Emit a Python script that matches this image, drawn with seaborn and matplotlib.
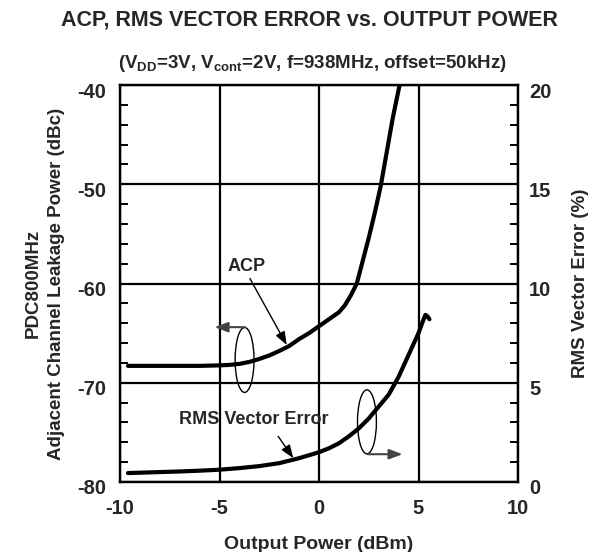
import numpy as np
import pandas as pd
import matplotlib
matplotlib.use("Agg")
import matplotlib.pyplot as plt
import matplotlib.transforms as mtransforms
import seaborn as sns
from matplotlib.patches import Ellipse
from matplotlib.ticker import MultipleLocator

# ---- data ----
acp_power = [-9.6, -8, -7, -6, -5, -4.5, -4, -3.5, -3, -2.5, -2, -1.5, -1, -0.5, 0,
             0.5, 1.0, 1.3, 1.6, 1.9, 2.2, 2.5, 2.8, 3.1, 3.4, 3.7, 4.05]
acp_dbc = [-68.3, -68.3, -68.3, -68.3, -68.25, -68.2, -68.1, -67.9, -67.6, -67.25, -66.8,
           -66.3, -65.6, -65.0, -64.3, -63.6, -62.9, -62.2, -61.2, -60.0, -57.7, -55.4,
           -52.9, -50.2, -46.8, -43.4, -40.0]
rms_power = [-9.6, -8, -7, -6, -5, -4, -3, -2, -1, 0, 0.5, 1, 1.5, 2, 2.5, 3, 3.5, 4,
             4.5, 5, 5.2, 5.35, 5.45, 5.55]
rms_pct = [0.45, 0.5, 0.53, 0.57, 0.62, 0.7, 0.8, 0.95, 1.2, 1.5, 1.7, 1.95, 2.3, 2.7,
           3.2, 3.8, 4.4, 5.3, 6.4, 7.5, 8.05, 8.42, 8.35, 8.2]
x_ticks = [-10, -5, 0, 5, 10]
acp_ticks = [-80, -70, -60, -50, -40]
rms_ticks = [0, 5, 10, 15, 20]

sns.set_style("white")
plt.rcParams["font.family"] = ["Liberation Sans", "DejaVu Sans"]
plt.rcParams["font.weight"] = "bold"
plt.rcParams["mathtext.fontset"] = "custom"
plt.rcParams["mathtext.rm"] = "Liberation Sans:bold"
plt.rcParams["mathtext.bf"] = "Liberation Sans:bold"

W, H = 610, 552
fig = plt.figure(figsize=(W / 100, H / 100), dpi=100)
ax = fig.add_axes([120 / W, 1 - 482 / H, 398 / W, 397 / H])
ax2 = ax.twinx()

df_acp = pd.DataFrame({"power": acp_power, "acp": acp_dbc})
df_rms = pd.DataFrame({"power": rms_power, "rms": rms_pct})
sns.lineplot(data=df_acp, x="power", y="acp", ax=ax, color="black", lw=3,
             sort=False, estimator=None)
sns.lineplot(data=df_rms, x="power", y="rms", ax=ax2, color="black", lw=3,
             sort=False, estimator=None)

ax.set_xlim(-10, 10)
ax.set_ylim(-80, -40)
ax2.set_ylim(0, 20)
ax.set_xticks(x_ticks)
ax.set_yticks(acp_ticks)
ax2.set_yticks(rms_ticks)
ax.set_xticklabels([str(v) for v in x_ticks])
ax.set_yticklabels([str(v) for v in acp_ticks])
ax2.set_yticklabels([str(v) for v in rms_ticks])
ax.xaxis.set_minor_locator(MultipleLocator(1))
ax.yaxis.set_minor_locator(MultipleLocator(2))
ax2.yaxis.set_minor_locator(MultipleLocator(1))

ax.grid(True, which="major", color="black", lw=1.6)
ax.set_axisbelow(True)
for a in (ax, ax2):
    for s in a.spines.values():
        s.set_color("black")
        s.set_linewidth(1.6)

fs_tick = 14.5
ax.tick_params(axis="x", which="major", length=0, pad=12, labelsize=fs_tick)
ax.tick_params(axis="y", which="major", length=0, pad=10, labelsize=fs_tick)
ax.tick_params(which="minor", direction="in", length=6, width=1.4, color="black",
               top=False, right=False)
ax2.tick_params(axis="y", which="major", length=0, pad=8, labelsize=fs_tick)
ax2.tick_params(axis="y", which="minor", direction="in", length=6, width=1.4,
                color="black")
shift = mtransforms.ScaledTranslation(0, -5 / 100, fig.dpi_scale_trans)
for lab in ax.get_yticklabels() + ax2.get_yticklabels():
    lab.set_transform(lab.get_transform() + shift)
for lab in ax.get_xticklabels() + ax.get_yticklabels() + ax2.get_yticklabels():
    lab.set_fontweight("bold")

ax.set_xlabel("Output Power (dBm)", fontsize=14, fontweight="bold", labelpad=13)
ax.set_ylabel("PDC800MHz\nAdjacent Channel Leakage Power (dBc)", fontsize=13.5,
              fontweight="bold", labelpad=9, linespacing=1.45)
ax2.set_ylabel("RMS Vector Error (%)", fontsize=13.5, fontweight="bold", labelpad=15)

fig.text(0.508, 1 - 20 / H, "ACP, RMS VECTOR ERROR vs. OUTPUT POWER", ha="center",
         va="center", fontsize=15.5, fontweight="bold")
fig.text(0.512, 1 - 63 / H,
         r"(V$_{\mathrm{DD}}$=3V, V$_{\mathrm{cont}}$=2V, f=938MHz, offset=50kHz)",
         ha="center", va="center", fontsize=13.5, fontweight="bold")

# annotations (left-axis data coordinates)
ax.text(-3.63, -58.3, "ACP", ha="center", va="center", fontsize=13, fontweight="bold")
ax.annotate("", xy=(-1.62, -66.2), xytext=(-3.47, -59.5),
            arrowprops=dict(arrowstyle="-|>,head_length=0.8,head_width=0.3",
                            color="black", lw=1.0, shrinkA=0, shrinkB=0))
ax.add_patch(Ellipse((-3.74, -67.7), 0.95, 6.55, fill=False, ec="black", lw=1.0))
ax.annotate("", xy=(-5.25, -64.4), xytext=(-3.74, -64.4),
            arrowprops=dict(arrowstyle="-|>,head_length=0.8,head_width=0.3",
                            color="#444444", lw=1.5, shrinkA=0, shrinkB=0))

ax.text(-3.3, -73.75, "RMS Vector Error", ha="center", va="center", fontsize=13,
        fontweight="bold")
ax.annotate("", xy=(-1.29, -77.6), xytext=(-2.05, -75.4),
            arrowprops=dict(arrowstyle="-|>,head_length=0.8,head_width=0.3",
                            color="black", lw=1.0, shrinkA=0, shrinkB=0))
ax.add_patch(Ellipse((2.41, -73.94), 0.95, 6.45, fill=False, ec="black", lw=1.0))
ax.annotate("", xy=(4.2, -77.2), xytext=(2.45, -77.2),
            arrowprops=dict(arrowstyle="-|>,head_length=0.8,head_width=0.3",
                            color="#444444", lw=1.5, shrinkA=0, shrinkB=0))

fig.savefig("out.png", dpi=100, facecolor="white")
